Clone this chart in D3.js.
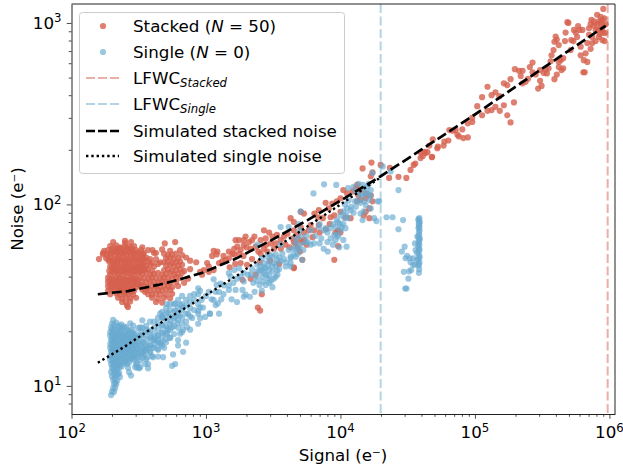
<!DOCTYPE html>
<html>
<head>
<meta charset="utf-8">
<script src="https://cdn.jsdelivr.net/npm/d3@7"></script>
<style>
html, body { margin: 0; padding: 0; background: #fff; }
text { font-family: "DejaVu Sans", sans-serif; fill: #000; }
</style>
</head>
<body>
<div id="chart"></div>
<script>
// [signal, noise]
const stackedPoints = [
[204,62],[250,61.5],[277,62],[160,50],[172,54],[250,63],
[194,59],[215,59.5],[229,58],[250,59],[268,58.5],[292,59],
[175,55.5],[187,56],[200,56.5],[215,55.5],[229,56],[246,55],[263,56.5],[282,55.5],[302,56],
[171,53],[184,52.5],[197,53.5],[211,53],[226,52],[242,53.5],[259,52.5],[277,53],[297,52.5],[319,53.5],
[181,50.5],[194,51],[207,50],[222,50.5],[238,51],[254,50],[273,50.5],[292,51],[313,50],
[191,48.5],[204,47.5],[219,48],[234,48.5],[250,47.5],[268,48],[287,48.5],[308,47.5],[330,48],
[194,45.5],[207,46.5],[222,46],[238,45.5],[254,46.5],[273,46],[292,45.5],[313,46.5],[336,46],
[191,43],[204,44],[219,43.5],[234,43],[250,44],[268,43.5],[287,43],[308,44],[330,43.5],
[194,41],[207,42],[222,41.5],[238,41],[254,42],[273,41.5],[292,41],[313,42],
[187,39.5],[200,39],[215,39.8],[229,39.4],[246,39],[263,39.8],[282,39.4],[302,39],[324,39.5],
[187,37.5],[200,37],[215,37.8],[229,37.4],[246,37],[263,37.8],[282,37.4],[302,37],
[187,35.5],[200,35],[215,35.8],[229,35.5],[246,35],[263,35.8],[282,35.5],[302,35],[324,35.5],
[187,33.5],[207,34],[222,33.5],[238,34],[254,33.5],[273,34],[292,33.5],
[194,32],[215,32.3],[229,31.8],[246,32.2],[263,32],[287,31.8],
[222,30.6],[238,30.2],[254,30.8],[273,30.4],[302,30.6],
[238,29],[254,28.8],[273,29.2],[259,27.7],[263,27.2],
[207,57.5],[222,57],[238,57.5],[258,57.5],[280,57.5],[190,54],[205,54.5],[220,54],[235,54.5],[252,54],[270,54.5],[290,54],[310,54.5],
[188,49.5],[200,49],[213,49],[228,49.5],[244,49],[262,49.5],[280,49],[300,49.5],[322,49.5],
[200,45],[214,45],[230,45],[246,45],[264,45],[282,45],[302,45],[324,45],
[200,42.5],[213,43],[228,42.5],[244,42.5],[260,42.5],[280,42.5],[298,42.5],[322,42.5],
[193,38.5],[208,38.5],[222,38.5],[238,38.5],[254,38.5],[272,38.5],[292,38.5],[312,38.5],
[193,36.3],[208,36.3],[222,36.3],[238,36.3],[254,36.3],[272,36.3],[292,36.3],[312,36.3],
[196,34.3],[214,34.6],[230,34.4],[246,34.5],[264,34.4],[282,34.3],
[225,33],[242,33],[258,33],[278,33],
[494,61],[590,62],[371,56],[472,56.5],[541,55.5],[642,56],
[341,53],[488,53.5],[522,52.5],[560,53],[600,53.5],[664,52.5],
[336,50.5],[359,51],[384,50],[505,50.5],[541,51],[579,50],[620,50.5],[712,51],
[347,48],[371,48.5],[397,47.5],[488,48],[522,48.5],[560,47.5],[600,48],[642,48.5],[762,49],
[359,46],[384,46.5],[411,45.5],[505,46],[541,46.5],[579,45.5],[620,46],[664,46.5],[846,48],
[347,43.5],[371,44],[397,43],[488,43.5],[522,44],[560,43],[600,43.5],[642,44],[688,43],[762,44],
[336,41.5],[359,42],[384,41],[411,41.5],[440,42],[472,41],[505,41.5],[541,42],[579,41],[620,41.5],[664,42],[904,42.5],
[347,39.4],[371,39],[397,39.8],[425,39.4],[456,39],[488,39.8],[522,39.4],[560,39],[600,39.8],[642,39.4],[737,39],
[336,37.4],[359,37],[384,37.8],[411,37.4],[440,37],[472,37.8],[505,37.4],[541,37],[600,37.4],[688,37],
[347,35.5],[371,35],[397,35.8],[425,35.5],[456,35],[488,35.8],[522,35.5],[560,35],[620,35.5],
[359,33.8],[384,33.5],[411,34],[440,33.8],[472,33.5],[505,34],[541,33.8],
[371,32],[397,31.8],[425,32.2],[456,32],[505,31.8],[560,32.2],
[397,30.6],[440,30.2],[488,30.6],[541,30.4],[425,29],[472,28.8],
[330,56],[336,58],[345,54],[328,44],[340,46],[352,44],[324,36],[336,34],[352,33],[330,52],[345,50],
[425,50],[440,47],[456,48],[411,54],[425,54],[400,56],
[1140,55.5],[1215,55],[1200,53],[1110,52],[1020,47.5],[1050,45.5],[965,43.5],[935,41],[1050,42.5],[1140,43.5],
[1250,47.5],[1320,48.5],[1400,49.5],[1480,50.5],[1570,53.5],[1620,57],[1710,58.5],[1810,56],[1910,59.5],[1970,66.5],
[2090,62],[2200,63.5],[2290,66.5],[1660,63.5],[1760,63.5],[1910,63.5],[1480,55],[1620,53],[1760,53.5],[2150,57],
[2340,58.5],[2550,63.5],[2700,72],[2950,70],[3120,66.5],[2780,65],[3370,68],[3030,61],[3300,61],[3590,63.5],
[3800,66.5],[4030,69],[4500,72],[5060,75],[2550,53.5],[2700,57],[2860,55],[2150,39],[1870,38.4],[2600,32],
[2430,27],[2530,26],[4500,44.5],[1810,47.5],[2020,46.5],[2340,41],
[2000,58],[2450,55],[2800,60],[3200,57],[3600,57],[3900,60],[4200,58],[4500,62],[4800,58],[5000,55],
[5600,60],[6200,66],[7000,70],[7800,73],[8300,78],[1350,52],[1500,45],[1650,47],[1900,52],[2200,50],
[2500,48],[3000,49],[3500,47],
[14600,158],[17000,170],[19900,165],[23000,140],[23300,159],[27000,142],[30900,140],[33200,155],[35000,165],[39400,180],
[42900,192],[48000,183],[36000,168],[41000,185],
[17300,150],[16800,143],[13300,128],[14100,120],[13000,123],[12300,118],[11200,115],[10500,120],[10000,108],[9400,104],
[8700,101],[7760,102],[8200,95],[6900,93],[6400,89],[6800,85],[7400,84],[9000,87],[8450,85],[10000,91],
[10900,85],[11900,84],[13300,104],[14100,106],[15400,108],[13600,112],[15400,115],[16800,112],[17300,104],[16400,95],
[15400,91],[16400,84],[14900,87],[5060,91],[5350,89],[4260,84],[4500,80],[5800,72],[6350,72],[5350,70],
[4800,68],[4430,65],[4900,64],[5350,64],[5200,62],[4640,61],[9600,72],[9200,70],[10000,70],[9600,59],
[5200,49.5],[9000,49.5],[4500,45],[6000,77],[6900,77],
[39400,193],[42200,195],[44400,194],[47800,182],[48600,228],[45800,211],[52500,204],[53000,208],[58500,211],[59200,222],
[63400,225],[64500,257],[68500,255],[71800,257],[74000,242],[80500,259],[76000,237],[82000,232],[88500,234],[88500,280],
[95500,285],[95500,300],[104000,348],[113000,390],[113000,310],[124000,445],[124000,328],[133000,331],[133000,400],[142000,415],
[142000,345],[153000,328],[152000,395],[164000,465],[164000,352],[174000,454],[184000,490],[174000,310],[184000,283],[195000,365],
[198000,556],[213000,545],[226000,545],[219000,510],[226000,465],[238000,475],[248000,492],[256000,572],[268000,605],[268000,535],
[283000,520],[305000,480],[295000,435],[313000,450],[305000,550],[325000,530],[343000,527],[335000,556],[353000,562],[365000,615],
[371000,663],[384000,709],[390000,788],[398000,842],[406000,810],[420000,755],[420000,610],[434000,624],[453000,640],[420000,572],
[440000,550],[453000,562],[406000,520],[390000,490],[467000,795],[487000,1010],[495000,1000],[472000,885],[520000,805],[540000,795],
[545000,915],[515000,709],[585000,960],[600000,915],[630000,915],[561000,885],[575000,838],[611000,740],[611000,663],[665000,680],
[645000,624],[685000,610],[640000,535],[655000,535],[685000,775],[745000,775],[725000,720],[790000,795],[705000,935],[735000,1040],
[765000,1020],[810000,1110],[860000,1080],[900000,1195],[885000,1040],[835000,1020],[790000,915],[860000,935],[905000,965],[900000,885],
[835000,838],[885000,805],[920000,795],[725000,985],[765000,965],[810000,985],[860000,1000],[937000,985],[745000,838],[705000,860],
[880000,920],[930000,880],[850000,870],[915000,1060],[825000,910]
];

const singlePoints = [
[204,23.1],
[200,22],[215,22.3],[234,21.8],[273,22.1],
[197,21],[207,20.7],[222,21.1],[238,20.8],[254,21],[313,20.8],
[194,19.8],[204,20],[219,19.6],[234,19.9],[250,19.7],[268,20],[287,19.7],[330,19.8],[371,19.9],
[194,18.9],[207,18.7],[222,19],[238,18.8],[254,19],[273,18.7],[292,18.9],[319,18.8],[353,19],[391,18.8],
[197,17.9],[211,18],[226,17.8],[242,18],[259,17.8],[277,18],[297,17.9],[330,17.8],[365,18],[404,17.9],[440,17.8],
[194,17],[207,17.2],[222,16.9],[238,17.1],[254,16.9],[273,17.1],[292,17],[313,16.9],[347,17.1],[384,16.9],[418,17],[464,17.1],
[194,16.2],[204,16],[219,16.3],[234,16.1],[250,16.3],[268,16],[287,16.2],[308,16],[336,16.3],[365,16.1],[397,16.2],[440,16],[488,16.2],
[197,15.4],[211,15.5],[226,15.3],[242,15.5],[259,15.3],[277,15.5],[297,15.4],[319,15.3],[353,15.5],[384,15.3],
[194,14.6],[207,14.7],[222,14.5],[238,14.7],[254,14.5],[273,14.7],[292,14.6],[313,14.5],[347,14.7],[397,14.6],[440,14.5],
[194,13.9],[207,14],[222,13.8],[238,14],[254,13.8],[273,14],[292,13.9],[324,13.8],[359,14],
[197,13.2],[211,13.3],[226,13.1],[242,13.3],[259,13.2],[302,13.1],[308,13.3],[371,13.2],
[200,12.6],[215,12.5],[229,12.7],[263,12.6],[319,12.5],[324,12.7],
[197,11.9],[211,12],[226,11.8],[268,11.9],
[200,11.3],[215,11.4],[229,11.2],
[204,10.8],[219,10.7],[207,10.3],[215,10.2],
[204,9.75],[211,9.7],[200,9.3],[207,9.25],[197,8.9],
[208,21.7],[228,21.4],[246,21.3],[262,20.4],[280,20.3],[200,20.4],[215,20.3],[230,20.4],[200,19.3],[213,19.3],[228,19.3],[244,19.3],[262,19.3],[280,19.3],[300,19.3],
[200,18.4],[215,18.4],[230,18.4],[248,18.4],[265,18.4],[284,18.4],[305,18.4],[200,17.5],[218,17.5],[234,17.5],[250,17.5],[268,17.5],[286,17.5],[308,17.5],[340,17.5],
[200,16.6],[213,16.6],[228,16.6],[244,16.6],[262,16.6],[280,16.6],[302,16.6],[326,16.6],[200,15.8],[215,15.8],[230,15.8],[248,15.8],[265,15.8],[284,15.8],[310,15.8],[344,15.8],
[200,15],[215,15],[232,15],[250,15],[268,15],[286,15],[308,15],[335,15],[200,14.2],[215,14.2],[230,14.2],[246,14.2],[264,14.2],[284,14.2],[304,14.2],
[202,13.5],[216,13.5],[232,13.5],[250,13.5],[268,13.5],[204,12.9],[220,12.9],[236,12.8],[204,12.2],[219,12.2],[208,11.6],[222,11.6],[210,11],[212,10.4],
[324,21],[336,23],[287,21.5],[384,20.2],[456,25],[472,24],[480,23.7],[472,21.7],[522,25.2],[514,28.2],
[590,28.5],[642,28],[676,27],[590,26],[642,24.5],[590,24],[550,22.7],[610,22.2],[560,21],[514,20.8],
[480,19.6],[440,19],[418,18.3],[514,19.4],[541,18.4],[456,17.2],[497,18],[522,20.4],[642,19.4],[676,20.4],
[762,20.4],[724,21.1],[875,22],[904,23.6],[790,23.7],[737,25],[875,25.9],[950,27],[1070,25],[985,24],
[620,16.7],[712,17.3],[676,15.4],[569,14.9],[480,14.4],[590,13.2],[560,12.9],[371,12.5],[353,13.2],[308,12.6],[297,12.7],[277,11.4],
[404,14.4],[365,14.3],
[336,20.9],[336,19.1],[336,15.4],[336,14.3],[359,21.4],[359,20.4],[359,16.7],[359,15.8],
[384,22.6],[384,18.4],[384,16.7],[384,15.4],[411,22.6],[411,20.9],[411,19.3],[411,17.9],[411,16.2],
[440,23.7],[440,22],[440,20.4],[440,18.9],[440,17.4],[440,15.8],[472,25.6],[472,23.7],[472,21.4],[472,19.8],[472,18.4],[472,16.7],
[505,26.9],[505,25],[505,23.1],[505,21.4],[505,19.3],[505,17.4],[541,28.2],[541,26.2],[541,24.1],[541,22],[541,20.4],[541,18.4],
[579,28.2],[579,25.6],[579,23.7],[579,21.4],[579,19.3],[620,29.8],[620,26.9],[620,25],[620,23.1],[620,20.9],[620,17.9],
[664,31.3],[664,28.2],[664,26.2],[664,23.7],[664,22],[664,19.8],[712,29.8],[712,27.7],[712,25],[712,22.6],
[762,31.3],[762,29],[762,26.9],[762,24.1],[817,32],[817,29.8],[817,26.2],[875,34.5],[875,32],[875,28.2],[875,25],
[904,33.4],[1000,31.3],[930,29.8],[904,27],[1070,25],[1250,25],[1180,27.9],[1225,28.5],[1140,29.8],[1250,33],
[1360,35.8],[1285,36.6],[1140,38.7],[1480,35.8],[1480,33.8],[1660,33.8],[1870,33.8],[1970,31.8],[2120,31],[1910,31],
[1524,40],[1480,41.8],[1620,43.5],[1760,44.5],[1810,40],[1910,37.6],[2150,41],[2340,40],[2410,42.8],[2600,43.5],
[2860,39],[3120,35],[3300,40],[3370,43.5],[3120,42.8],[2950,43.5],[2780,44.5],[2550,45.5],[2410,46.5],[2700,47.5],
[2950,48.5],[3200,47.5],[3370,49.5],[3590,48.5],[3120,51.5],[2860,51.5],[2600,50.5],[3700,53.5],[3590,60],[3910,45.5],
[4260,45.5],[4260,50.5],[4640,51.5],[5200,49.5],[4120,56],[4640,57],[5060,60],[5500,62],[6000,60],[4640,65],
[5060,66.5],[3590,75],[4120,75],[4900,78],[2410,60],
[2600,40],[2700,42],[2800,41],[2950,40.5],[3050,38],[2950,37],[2780,36],[3200,39],[3400,41],[3500,44],
[3300,46],[3100,45.5],[2900,46],[2700,45],[2500,43],[2400,38],[2250,37],[2500,36],[2650,37.5],[3000,52.5],
[3300,53],[3500,51],[3800,50],[3950,48],[2200,44],[2050,41],[1900,42],[1700,39],[1600,37],[1350,32],
[1300,30],[1550,30],[1700,29],[2300,33],[2600,33.5],[1200,36],[1050,33],[1100,30],[1180,33],
[7550,129],[9300,128],[6300,115],[5060,91.5],[11400,123],[12500,125],[13600,130],[14600,128],[15800,125],[16800,120],
[17300,149],[20600,162],[23600,152],[27000,120],[18900,104],[19400,104],[17800,84],[18500,81],[22000,85],[24400,85],
[29200,82],[27000,73],[15400,115],[16800,112],[16400,106],[15400,99],[16800,95],[14900,91.5],[14100,89],[14600,82],
[13000,97],[11900,93],[11200,95],[10500,91.5],[10000,87],[10700,84],[11400,84],[9600,80],[10500,78],[10900,74],
[10000,72],[9200,75],[8450,74],[7760,74],[6900,75],[6000,72],[9000,68],[8450,65],[9600,66.5],[10500,63.7],
[11100,58.5],[9200,63.7],[5700,62],[6350,61],[7000,61],[7500,57],[8050,55],[4640,61],[4430,57],[4800,53.5],
[4260,51.5],[4500,53],[4260,47.5],[13000,118],
[7000,78],[7500,72],[8000,70],[8800,78],[9400,82],[9900,78],[11000,88],[12000,97],[12500,90],[12800,104],
[14000,102],[15000,104],[14500,112],[13500,105],[10800,100],[11500,105],[6500,67],[7200,65],[8000,62],[8800,60],
[9800,58],[10200,75],[9500,68],[4900,57],[5300,56],[5600,67],[5000,72],[15800,115],[16200,130],[15000,122],[14000,113],
[38600,84],[38000,82],[38900,80],[38200,78],[38700,76],[38100,74],[38800,72],[38300,70],[38600,68],[38000,66],
[38800,64],[38300,62],[38600,60],[37900,58],[38700,56],[38200,54],[38600,52],[38000,50],[38700,48],[38200,46],
[38500,44],[38300,42],[38100,83],[38500,79],[38300,75],[38700,65],[38000,61],[38500,57],[38700,51],[38200,47],
[30000,58.5],[28600,55],[31300,52],[30500,50.5],[32800,50.5],[34700,50.5],[33200,48],[34700,46.5],[33600,43.5],[32400,42.8],
[29600,42.5],[32000,39],[31000,34.4],[30300,34.4],[35800,61],[36200,56],[37300,66.5],[35800,46.5],[37000,54],[37000,49.5]
];

const simSignal = [157, 263, 440, 620, 940, 1700, 3000, 5700, 10900, 19900, 39400, 100000, 200000, 500000, 937000];
const simStackedNoise = [32, 33.3, 36, 38.4, 42, 50.6, 63, 82, 109, 143, 199, 313, 445, 705, 965];

const simSingleSignal = [157, 250, 404, 800, 1730, 3000, 5000, 10000, 19900];
const simSingleNoise = [13.4, 16.5, 21, 28.5, 40.9, 55, 71, 100, 141];

const lfwcStacked = 970000;
const lfwcSingle = 19900;

const xMajor = [100, 1000, 10000, 100000, 1000000];
const yMajor = [10, 100, 1000];
const xExp = ['2', '3', '4', '5', '6'];
const yExp = ['1', '2', '3'];

const red = '#d6604d';
const blue = '#67a9cf';

const width = 623, height = 467;
const margin = {top: 4, right: 8, bottom: 53, left: 71.5};
const pointRadius = 3.1;
const fontSize = 16.7;
const smallFont = 11.7;

const x = d3.scaleLog().domain([100, 1100000])
    .range([margin.left, width - margin.right]);
const y = d3.scaleLog().domain([7, 1272])
    .range([height - margin.bottom, margin.top]);

const svg = d3.select('#chart').append('svg')
    .attr('width', width)
    .attr('height', height)
    .style('display', 'block');

function minorTicks(scale) {
    const out = [];
    const [a, b] = scale.domain();
    for (let e = 0; e < 7; e++) {
        for (let m = 2; m < 10; m++) {
            const v = m * Math.pow(10, e);
            if (v > a && v < b) out.push(v);
        }
    }
    return out;
}

// points first, the lines go over them
svg.append('g').selectAll('circle')
    .data(stackedPoints)
    .enter().append('circle')
    .attr('cx', d => x(d[0]))
    .attr('cy', d => y(d[1]))
    .attr('r', pointRadius)
    .attr('fill', red)
    .attr('opacity', 0.8);

svg.append('g').selectAll('circle')
    .data(singlePoints)
    .enter().append('circle')
    .attr('cx', d => x(d[0]))
    .attr('cy', d => y(d[1]))
    .attr('r', pointRadius)
    .attr('fill', blue)
    .attr('opacity', 0.65);

function vline(value, color) {
    svg.append('line')
        .attr('x1', x(value)).attr('x2', x(value))
        .attr('y1', y.range()[1]).attr('y2', y.range()[0])
        .attr('stroke', color)
        .attr('stroke-opacity', 0.5)
        .attr('stroke-width', 2)
        .attr('stroke-dasharray', '9,3.5');
}
vline(lfwcStacked, red);
vline(lfwcSingle, blue);

const line = d3.line().x(d => x(d[0])).y(d => y(d[1]));

svg.append('path')
    .attr('d', line(simSingleSignal.map((s, i) => [s, simSingleNoise[i]])))
    .attr('fill', 'none')
    .attr('stroke', '#000')
    .attr('stroke-width', 2.4)
    .attr('stroke-dasharray', '2.4,2.9');

svg.append('path')
    .attr('d', line(simSignal.map((s, i) => [s, simStackedNoise[i]])))
    .attr('fill', 'none')
    .attr('stroke', '#000')
    .attr('stroke-width', 2.7)
    .attr('stroke-dasharray', '10,4');

// axes
const bottom = height - margin.bottom;

svg.append('g')
    .attr('transform', `translate(0,${bottom})`)
    .call(d3.axisBottom(x).tickValues(xMajor).tickSize(4.8).tickSizeOuter(0).tickFormat(''));
svg.append('g')
    .attr('transform', `translate(0,${bottom})`)
    .call(d3.axisBottom(x).tickValues(minorTicks(x)).tickSize(2.8).tickSizeOuter(0).tickFormat(''))
    .select('.domain').remove();

svg.append('g')
    .attr('transform', `translate(${margin.left},0)`)
    .call(d3.axisLeft(y).tickValues(yMajor).tickSize(4.8).tickSizeOuter(0).tickFormat(''));
svg.append('g')
    .attr('transform', `translate(${margin.left},0)`)
    .call(d3.axisLeft(y).tickValues(minorTicks(y)).tickSize(2.8).tickSizeOuter(0).tickFormat(''))
    .select('.domain').remove();

svg.selectAll('.tick line').attr('stroke', '#222').attr('stroke-width', 0.8);
svg.selectAll('.domain').attr('stroke', '#222').attr('stroke-width', 1);

// top and right spines
svg.append('path')
    .attr('d', `M${margin.left},${margin.top}H${width - margin.right}V${bottom}`)
    .attr('fill', 'none')
    .attr('stroke', '#222')
    .attr('stroke-width', 1);

function powerLabel(sel, exp) {
    sel.append('tspan').text('10');
    sel.append('tspan').text(exp)
        .attr('font-size', smallFont)
        .attr('dy', -6.5);
}

xMajor.forEach((v, i) => {
    const t = svg.append('text')
        .attr('x', x(v))
        .attr('y', bottom + 24)
        .attr('text-anchor', 'middle')
        .attr('font-size', fontSize);
    powerLabel(t, xExp[i]);
});

yMajor.forEach((v, i) => {
    const t = svg.append('text')
        .attr('x', margin.left - 10)
        .attr('y', y(v) + 6)
        .attr('text-anchor', 'end')
        .attr('font-size', fontSize);
    powerLabel(t, yExp[i]);
});

svg.append('text')
    .attr('x', 343)
    .attr('y', 461)
    .attr('text-anchor', 'middle')
    .attr('font-size', fontSize)
    .text('Signal (e⁻)');

svg.append('text')
    .attr('transform', 'translate(23,209) rotate(-90)')
    .attr('text-anchor', 'middle')
    .attr('font-size', fontSize)
    .text('Noise (e⁻)');

// legend
const legend = svg.append('g');
legend.append('rect')
    .attr('x', 79.5).attr('y', 12.5)
    .attr('width', 265).attr('height', 161)
    .attr('rx', 3)
    .attr('fill', '#fff').attr('fill-opacity', 0.8)
    .attr('stroke', '#ccc');

const rowY = [26, 52, 78, 104, 131, 156];
const handleX = [86, 119];

legend.append('circle').attr('cx', 103).attr('cy', rowY[0]).attr('r', pointRadius).attr('fill', red).attr('opacity', 0.8);
legend.append('circle').attr('cx', 103).attr('cy', rowY[1]).attr('r', pointRadius).attr('fill', blue).attr('opacity', 0.65);

function handle(row, color, opacity, dash, w) {
    legend.append('line')
        .attr('x1', handleX[0]).attr('x2', handleX[1])
        .attr('y1', rowY[row]).attr('y2', rowY[row])
        .attr('stroke', color)
        .attr('stroke-opacity', opacity)
        .attr('stroke-width', w)
        .attr('stroke-dasharray', dash);
}
handle(2, red, 0.5, '9,3', 2);
handle(3, blue, 0.5, '9,3', 2);
handle(4, '#000', 1, '9,3', 2.7);
handle(5, '#000', 1, '2.4,2.9', 2.4);

function legendText(row) {
    return legend.append('text')
        .attr('x', 133)
        .attr('y', rowY[row] + 6)
        .attr('font-size', fontSize);
}

function countLabel(row, name, count) {
    const t = legendText(row);
    t.append('tspan').text(name + ' (');
    t.append('tspan').text('N').attr('font-style', 'italic');
    t.append('tspan').text(' = ' + count + ')');
}
countLabel(0, 'Stacked', 50);
countLabel(1, 'Single', 0);

function lfwcLabel(row, sub) {
    const t = legendText(row);
    t.append('tspan').text('LFWC');
    t.append('tspan').text(sub)
        .attr('font-style', 'italic')
        .attr('font-size', smallFont)
        .attr('dy', 3);
}
lfwcLabel(2, 'Stacked');
lfwcLabel(3, 'Single');

legendText(4).text('Simulated stacked noise');
legendText(5).text('Simulated single noise');
</script>
</body>
</html>
